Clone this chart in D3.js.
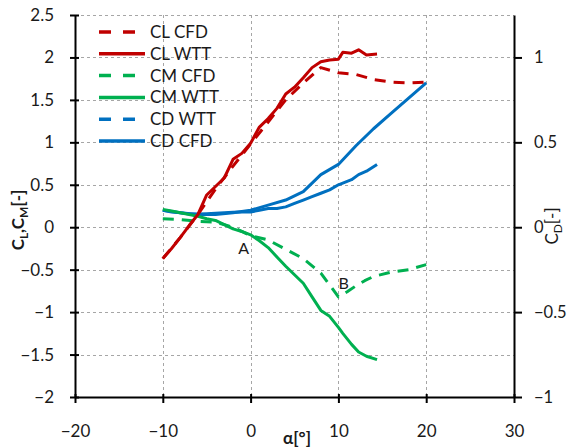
<!DOCTYPE html>
<html>
<head>
<meta charset="utf-8">
<script src="https://cdn.jsdelivr.net/npm/d3@7"></script>
<style>
  body { margin: 0; background: #fff; }
  svg { display: block; }
  text { font-family: Lato, "Open Sans", sans-serif; fill: #1a1a1a; }
</style>
</head>
<body>
<svg id="chart" width="568" height="447"></svg>
<script>
// ---- tick values ----
const alphaTicks = [-20, -10, 0, 10, 20, 30];
const leftTicks = [-2, -1.5, -1, -0.5, 0, 0.5, 1, 1.5, 2, 2.5];
const rightTicks = [-1, -0.5, 0, 0.5, 1];

// ---- CFD results ----
const alphaCFD = [-10, -8, -6, -4, -2, 0, 2, 4, 6, 8, 10, 12, 14, 16, 18, 20];
const clCFD    = [-0.37, -0.12, 0.15, 0.45, 0.72, 0.98, 1.24, 1.50, 1.70, 1.88, 1.82, 1.80, 1.74, 1.71, 1.70, 1.71];
const alphaCmCFD = [-10, -8, -6, -4, -2, 0, 2, 4, 6, 8, 9, 10, 11, 12, 13, 14, 16, 18, 20];
const cmCFD      = [0.10, 0.09, 0.07, 0.06, 0.00, -0.10, -0.15, -0.26, -0.37, -0.54, -0.68, -0.82, -0.76, -0.69, -0.63, -0.58, -0.53, -0.50, -0.44];
const cdCFD    = [0.10, 0.085, 0.075, 0.075, 0.085, 0.10, 0.13, 0.16, 0.21, 0.31, 0.37, 0.48, 0.58, 0.67, 0.76, 0.85];

// ---- wind tunnel tests ----
const alphaWTT = [-10, -9, -8, -7, -6, -5, -4, -3, -2, -1, 0, 1, 2, 3, 4, 5, 6, 7, 8, 9, 10, 10.5, 11.5, 12.3, 13.2, 14.4];
const clWTT    = [-0.37, -0.25, -0.12, 0.02, 0.15, 0.38, 0.48, 0.58, 0.80, 0.87, 0.99, 1.18, 1.28, 1.40, 1.57, 1.65, 1.76, 1.88, 1.95, 1.97, 1.98, 2.06, 2.05, 2.09, 2.03, 2.04];
const cmWTT    = [0.21, 0.19, 0.17, 0.15, 0.13, 0.10, 0.08, 0.03, -0.02, -0.05, -0.09, -0.16, -0.24, -0.35, -0.46, -0.56, -0.66, -0.82, -0.98, -1.05, -1.18, -1.25, -1.38, -1.47, -1.52, -1.56];
const cdWTT    = [0.10, 0.09, 0.085, 0.078, 0.078, 0.08, 0.082, 0.085, 0.088, 0.09, 0.09, 0.10, 0.11, 0.11, 0.12, 0.14, 0.16, 0.18, 0.20, 0.22, 0.25, 0.26, 0.28, 0.31, 0.33, 0.37];

const legendLabels = ["CL CFD", "CL WTT", "CM CFD", "CM WTT", "CD WTT", "CD CFD"];

const RED = "#c00000", GREEN = "#00b050", BLUE = "#0070c0";

const svg = d3.select("#chart");

const x = d3.scaleLinear().domain([-20, 30]).range([75, 514]);
const yL = d3.scaleLinear().domain([-2, 2.5]).range([397, 15]);
const yR = d3.scaleLinear().domain([-1, 1.25]).range([397, 15]);

// ---- grid ----
const grid = svg.append("g").attr("stroke", "#a6a6a6").attr("stroke-width", 1)
  .attr("stroke-dasharray", "3,3").attr("fill", "none");
grid.selectAll("line.h").data(leftTicks.filter(d => d > -2)).join("line")
  .attr("x1", x(-20)).attr("x2", x(30))
  .attr("y1", d => Math.round(yL(d)) + 0.5).attr("y2", d => Math.round(yL(d)) + 0.5);
grid.selectAll("line.v").data(alphaTicks.filter(d => d > -20 && d < 30)).join("line")
  .attr("class", "v")
  .attr("y1", yL(2.5)).attr("y2", yL(-2))
  .attr("x1", d => Math.round(x(d)) + 0.5).attr("x2", d => Math.round(x(d)) + 0.5);

// ---- axes ----
function styleAxis(g, size) {
  g.select(".domain").attr("stroke", "#000").attr("stroke-width", 2);
  g.selectAll(".tick line").attr("stroke", "#000").attr("stroke-width", 2);
  g.selectAll(".tick text").attr("font-size", size).attr("fill", "#1a1a1a")
    .style("font-family", "Lato, 'Open Sans', sans-serif");
}

const axL = svg.append("g").attr("transform", `translate(${x(-20)},0)`)
  .call(d3.axisLeft(yL).tickValues(leftTicks).tickSize(5).tickSizeOuter(0).tickPadding(16)
    .tickFormat(d3.format("")));
axL.selectAll(".tick line").attr("x2", -5).attr("x1", 4);
styleAxis(axL, 17);

const axB = svg.append("g").attr("transform", `translate(0,${yL(-2)})`)
  .call(d3.axisBottom(x).tickValues(alphaTicks).tickSize(6).tickSizeOuter(0).tickPadding(22));
axB.selectAll(".tick line").attr("y1", -3).attr("y2", 6);
styleAxis(axB, 17);

const axR = svg.append("g").attr("transform", `translate(${x(30)},0)`)
  .call(d3.axisRight(yR).tickValues(rightTicks).tickSize(8).tickSizeOuter(0).tickPadding(12)
    .tickFormat(d3.format("")));
styleAxis(axR, 16.5);

// ---- series ----
function drawSeries(xs, ys, yScale, color, dash) {
  const pts = xs.map((a, i) => [x(a), yScale(ys[i])]);
  svg.append("path").datum(pts)
    .attr("d", d3.line())
    .attr("fill", "none").attr("stroke", color).attr("stroke-width", 3)
    .attr("stroke-linejoin", "round")
    .attr("stroke-dasharray", dash || null);
}
drawSeries(alphaCFD, cdCFD, yR, BLUE);
drawSeries(alphaWTT, cdWTT, yR, BLUE);
drawSeries(alphaCmCFD, cmCFD, yL, GREEN, "11,8");
drawSeries(alphaWTT, cmWTT, yL, GREEN);
drawSeries(alphaCFD, clCFD, yL, RED, "11,8");
drawSeries(alphaWTT, clWTT, yL, RED);

// ---- point annotations ----
svg.append("text").attr("x", x(-0.8)).attr("y", yL(-0.24) + 6).attr("text-anchor", "middle")
  .attr("font-size", 16).text("A");
svg.append("text").attr("x", x(10.6)).attr("y", yL(-0.66) + 6).attr("text-anchor", "middle")
  .attr("font-size", 16).text("B");

// ---- legend ----
const legendColors = [RED, RED, GREEN, GREEN, BLUE, BLUE];
const legendDash = ["12,12", null, "12,12", null, "12,12", null];
const leg = svg.append("g");
legendLabels.forEach((lab, i) => {
  const yy = 32 + i * 21.8;
  leg.append("line").attr("x1", 99).attr("x2", 145).attr("y1", yy).attr("y2", yy)
    .attr("stroke", legendColors[i]).attr("stroke-width", 3.5)
    .attr("stroke-dasharray", legendDash[i]);
  leg.append("text").attr("x", 150).attr("y", yy + 6).attr("font-size", 17).text(lab);
});

// ---- axis titles ----
const tL = svg.append("text").attr("transform", "translate(24,220) rotate(-90)")
  .attr("text-anchor", "middle").attr("font-size", 17).attr("font-weight", "bold");
tL.append("tspan").text("C");
tL.append("tspan").attr("font-size", 12).attr("dy", 4).text("L");
tL.append("tspan").attr("dy", -4).text(",C");
tL.append("tspan").attr("font-size", 12).attr("dy", 4).text("M");
tL.append("tspan").attr("dy", -4).text("[-]");

const tR = svg.append("text").attr("transform", "translate(558,226) rotate(-90)")
  .attr("text-anchor", "middle").attr("font-size", 17);
tR.append("tspan").text("C");
tR.append("tspan").attr("font-size", 12).attr("dy", 4).text("D");
tR.append("tspan").attr("dy", -4).text("[-]");

svg.append("text").attr("x", 297).attr("y", 444).attr("text-anchor", "middle")
  .attr("font-size", 17).attr("font-weight", "bold").text("α[°]");
</script>
</body>
</html>
